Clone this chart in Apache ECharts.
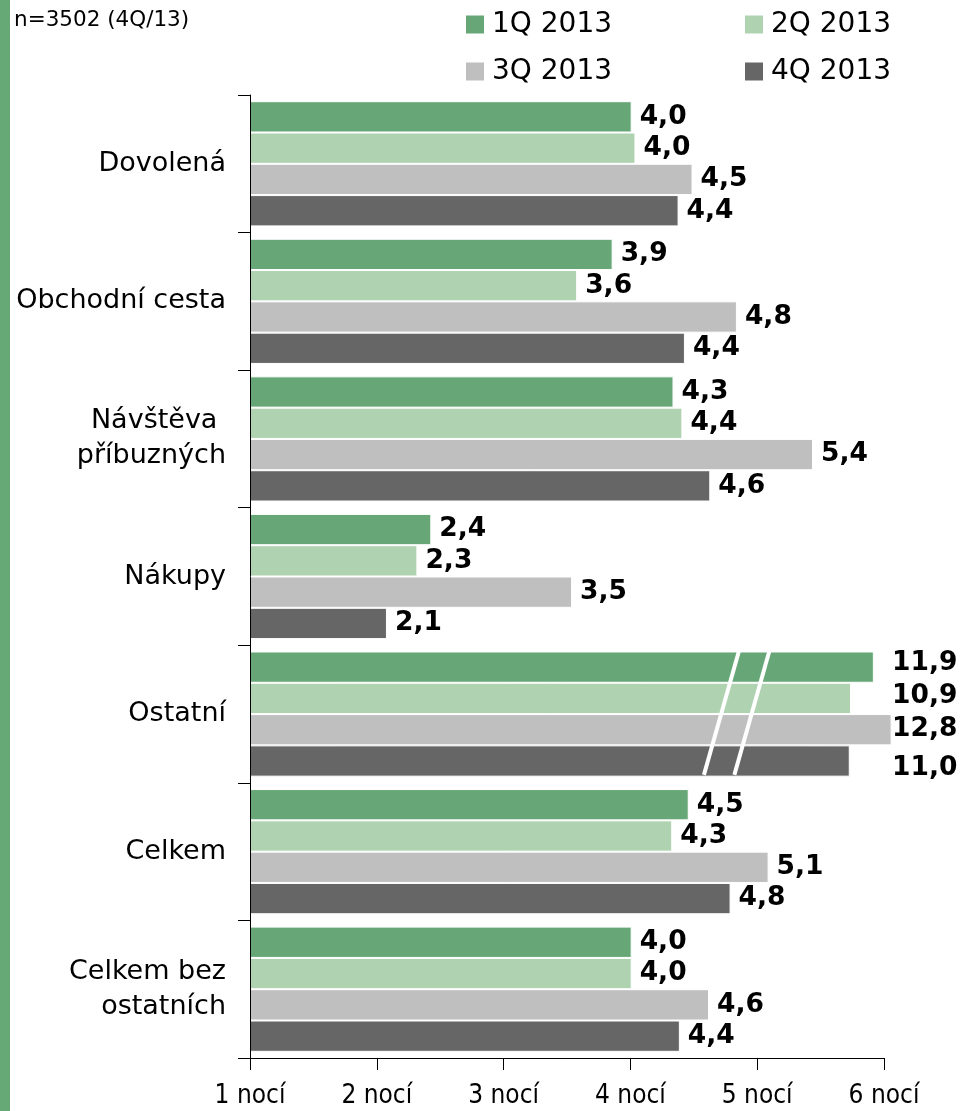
<!DOCTYPE html>
<html>
<head>
<meta charset="utf-8">
<script src="https://cdn.jsdelivr.net/npm/echarts@6/dist/echarts.min.js"></script>
<style>
html,body{margin:0;padding:0;background:#fff;}
#c{width:962px;height:1111px;}
</style>
</head>
<body>
<div id="c"></div>
<script>
// ---- data ----
const categories = ['Dovolená', 'Obchodní cesta', 'Návštěva \npříbuzných', 'Nákupy', 'Ostatní', 'Celkem', 'Celkem bez\nostatních'];
const seriesNames = ['1Q 2013', '2Q 2013', '3Q 2013', '4Q 2013'];
const q1 = [4.01, 3.86, 4.34, 2.43, 11.9, 4.46, 4.01];
const q2 = [4.04, 3.58, 4.41, 2.32, 10.9, 4.33, 4.01];
const q3 = [4.49, 4.84, 5.44, 3.54, 12.8, 5.09, 4.62];
const q4 = [4.38, 4.43, 4.63, 2.08, 11.0, 4.79, 4.39];
// "Ostatní" bars are drawn cut short (broken bars); their drawn lengths:
const brokenIndex = 4;
const brokenDrawn = [5.92, 5.74, 6.06, 5.73];
const xTicks = [1, 2, 3, 4, 5, 6];
const sampleNote = 'n=3502 (4Q/13)';

// ---- styles ----
const colors = ['#67a777', '#afd2b1', '#bfbfbf', '#666666'];
const allSeries = [q1, q2, q3, q4];
const fmt = v => (Math.round(v * 10) / 10).toFixed(1).replace('.', ',');
const labelFont = {fontFamily: 'DejaVu Sans', fontWeight: 'bold', fontSize: 26.5, color: '#000'};

const chart = echarts.init(document.getElementById('c'), null, {renderer: 'canvas'});

function buildSeries(labelOffsets) {
  return allSeries.map((vals, s) => ({
    name: seriesNames[s],
    type: 'bar',
    clip: false,
    barGap: '0%',
    barCategoryGap: '9%',
    itemStyle: {color: colors[s], borderColor: '#ffffff', borderWidth: 1},
    label: Object.assign({
      show: true, position: 'right', distance: 8,
      formatter: p => fmt(vals[p.dataIndex])
    }, labelFont),
    data: vals.map((v, i) => {
      if (i === brokenIndex) {
        const item = {value: brokenDrawn[s]};
        if (labelOffsets) item.label = {offset: labelOffsets[s]};
        return item;
      }
      return v;
    })
  }));
}

const option = {
  animation: false,
  backgroundColor: '#ffffff',
  color: colors,
  grid: {left: 250, right: 78, top: 95, bottom: 53, containLabel: false},
  legend: {
    left: 466, top: 4, width: 560, padding: 0,
    orient: 'horizontal',
    itemWidth: 18, itemHeight: 18, itemGap: 6,
    icon: 'rect',
    itemStyle: {borderWidth: 0},
    data: seriesNames,
    textStyle: {fontFamily: 'DejaVu Sans', fontSize: 28, color: '#000', width: 247, lineHeight: 41, padding: [0, 0, 0, 3]}
  },
  xAxis: {
    type: 'value', min: 1, max: 6, interval: 1, startValue: 1, z: 5,
    axisLine: {show: true, lineStyle: {color: '#000', width: 1}},
    axisTick: {show: true, length: 12, lineStyle: {color: '#000'}},
    splitLine: {show: false},
    axisLabel: {
      margin: 25,
      fontFamily: 'DejaVu Sans Condensed', fontSize: 26, color: '#000',
      formatter: v => xTicks.includes(v) ? v + ' nocí' : ''
    }
  },
  yAxis: {
    type: 'category', inverse: true, data: categories, z: 5,
    axisLine: {show: true, lineStyle: {color: '#000', width: 1}},
    axisTick: {show: true, length: 12, alignWithLabel: false, lineStyle: {color: '#000'}},
    axisLabel: {margin: 24, fontFamily: 'DejaVu Sans', fontSize: 27, color: '#000', lineHeight: 35, align: 'right'}
  },
  series: buildSeries(null),
  graphic: []
};
chart.setOption(option);

// place the labels of the broken bars in one column, and draw break marks
const labelColumnX = 892;
const labelYShift = [-4, -2, -1, 7];
const offsets = brokenDrawn.map((v, s) => {
  const end = chart.convertToPixel({xAxisIndex: 0}, v);
  return [labelColumnX - (end + 8), labelYShift[s]];
});
const cy = chart.convertToPixel({yAxisIndex: 0}, brokenIndex);
const band = (chart.convertToPixel({yAxisIndex: 0}, 1) - chart.convertToPixel({yAxisIndex: 0}, 0));
const yTop = cy - band / 2 + 4;
const yBot = cy + band / 2 - 8;
const breakMarks = [[4.86, 4.58], [5.10, 4.82]];
const gfx = [
  {type: 'rect', left: 0, top: 0, shape: {x: 0, y: 0, width: 10, height: 1111}, style: {fill: '#67a877'}, z: 100},
  {type: 'text', left: 14, top: 9, style: {text: sampleNote, fontFamily: 'DejaVu Sans', fontSize: 21.5, fill: '#000'}, z: 100}
];
breakMarks.forEach(([a, b]) => {
  gfx.push({
    type: 'line', z: 100,
    shape: {
      x1: chart.convertToPixel({xAxisIndex: 0}, a), y1: yTop,
      x2: chart.convertToPixel({xAxisIndex: 0}, b), y2: yBot
    },
    style: {stroke: '#ffffff', lineWidth: 4}
  });
});
chart.setOption({series: buildSeries(offsets), graphic: gfx});
</script>
</body>
</html>
